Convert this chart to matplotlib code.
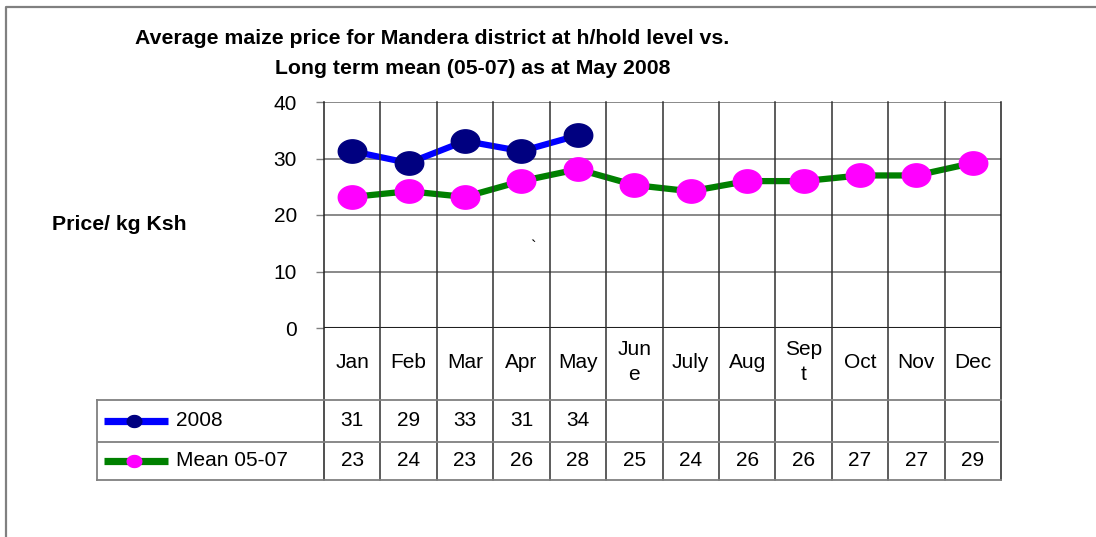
import numpy as np
import matplotlib
matplotlib.use("Agg")
import matplotlib.pyplot as plt
from matplotlib.path import Path
from matplotlib.lines import Line2D
import matplotlib.transforms as mtransforms

plt.rcParams['font.family'] = ['Liberation Sans', 'DejaVu Sans']

# ---- data ----
months = ["Jan", "Feb", "Mar", "Apr", "May", "Jun\ne", "July", "Aug", "Sep\nt", "Oct", "Nov", "Dec"]
series_2008 = [31.3, 29.2, 33.1, 31.3, 34.1]
series_mean = [23.2, 24.2, 23.2, 26.0, 28.1, 25.3, 24.2, 26.0, 26.0, 27.0, 27.0, 29.2]
table_2008 = [31, 29, 33, 31, 34]
table_mean = [23, 24, 23, 26, 28, 25, 24, 26, 26, 27, 27, 29]
yticks = [0, 10, 20, 30, 40]
title1 = "Average maize price for Mandera district at h/hold level vs."
title2 = "Long term mean (05-07) as at May 2008"
ylabel = "Price/ kg Ksh"
legend_labels = ["2008", "Mean 05-07"]

W, H = 1096, 537
fig = plt.figure(figsize=(W / 100, H / 100), dpi=100)

def fx(px):
    return px / W

def fy(py):
    return 1 - py / H

ax_l, ax_r, ax_t, ax_b = 324, 1001, 102, 328
ax = fig.add_axes([fx(ax_l), fy(ax_b), fx(ax_r - ax_l), (ax_b - ax_t) / H])
ax.set_xlim(0, len(months))
ax.set_ylim(0, 40)
for s in ax.spines.values():
    s.set_visible(False)

grid_gray = '#808080'
dark = '#303030'
for v in yticks[1:]:
    ax.axhline(v, color=grid_gray, lw=1.3, zorder=1)
ax.axhline(0, color='#202020', lw=1.5, zorder=1)

ax.set_xticks([])
ax.set_yticks(yticks)
ax.tick_params(axis='y', length=5.5, width=1, color=grid_gray, labelsize=15, pad=14)

# ellipse marker
th = np.linspace(0, 2 * np.pi, 80)
ell = Path(np.column_stack([np.cos(th), 0.82 * np.sin(th)]), closed=True)

xs = np.arange(len(months)) + 0.5
ax.plot(xs[:len(series_2008)], series_2008, color='#0000FF', lw=4.5, marker=ell,
        ms=20.5, mfc='#000080', mec='#000080', zorder=4, clip_on=False)
ax.plot(xs, series_mean, color='#008000', lw=4.5, marker=ell,
        ms=20.5, mfc='#FF00FF', mec='#FF00FF', zorder=3, clip_on=False)

# stray character
fig.text(fx(533), fy(248), "`", fontsize=12, ha='center', va='center')

# ---- table ----
tr = mtransforms.blended_transform_factory(ax.transData, fig.transFigure)
r_cat, r_a, r_b = 400, 442, 480

# vertical column lines
for i in range(len(months) + 1):
    col = dark if 0 < i < len(months) else '#202020'
    fig.add_artist(Line2D([i, i], [fy(ax_t), fy(r_b)], transform=tr, color=col, lw=1.1))

# horizontal table lines (figure pixels)
def hline(x0, x1, y, col=grid_gray, lw=1.3):
    fig.add_artist(Line2D([fx(x0), fx(x1)], [fy(y), fy(y)], transform=fig.transFigure, color=col, lw=lw))

hline(97, ax_r, r_cat)
hline(98, 998, r_a)
hline(97, ax_r, r_b)
fig.add_artist(Line2D([fx(97), fx(97)], [fy(r_cat), fy(r_b)], transform=fig.transFigure, color=grid_gray, lw=1.3))

# category labels
for i, m in enumerate(months):
    fig.text(xs[i], fy(362), m, transform=tr, ha='center', va='center', fontsize=15, linespacing=1.35)

# values
for i, v in enumerate(table_2008):
    fig.text(xs[i], fy(421), str(v), transform=tr, ha='center', va='center', fontsize=15)
for i, v in enumerate(table_mean):
    fig.text(xs[i], fy(461), str(v), transform=tr, ha='center', va='center', fontsize=15)

# legend keys
for yy, lc, mc, lab in [(421, '#0000FF', '#000080', legend_labels[0]),
                        (461, '#008000', '#FF00FF', legend_labels[1])]:
    fig.add_artist(Line2D([fx(104), fx(168)], [fy(yy), fy(yy)], transform=fig.transFigure,
                          color=lc, lw=5.2, solid_capstyle='butt'))
    fig.add_artist(Line2D([fx(134)], [fy(yy)], transform=fig.transFigure, marker=ell,
                          ms=10.5, mfc=mc, mec=mc, lw=0))
    fig.text(fx(176), fy(yy), lab, ha='left', va='center', fontsize=15)

# titles and y label
fig.text(fx(135), fy(39), title1, ha='left', va='center', fontsize=15.3, fontweight='bold')
fig.text(fx(275), fy(69), title2, ha='left', va='center', fontsize=15.3, fontweight='bold')
fig.text(fx(52), fy(224), ylabel, ha='left', va='center', fontsize=15.3, fontweight='bold')

# outer border
fig.add_artist(Line2D([fx(6), fx(6), 1.0], [0.0, fy(7), fy(7)], transform=fig.transFigure,
                      color=grid_gray, lw=1.6))

fig.savefig("out.png", dpi=100)
